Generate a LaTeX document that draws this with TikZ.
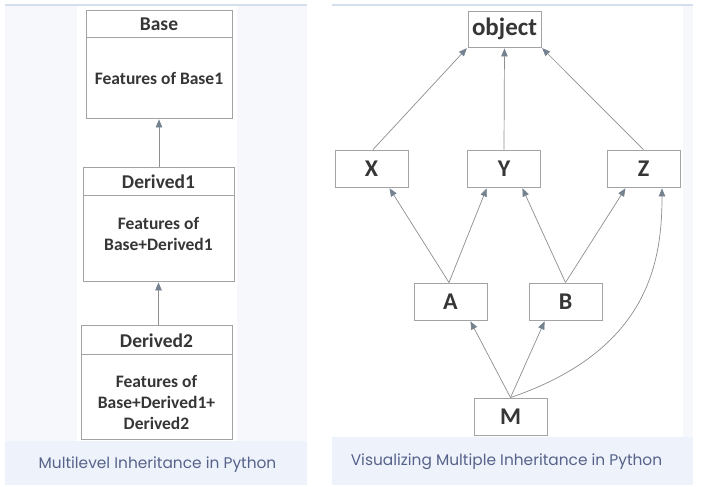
\documentclass[tikz,border=0pt]{standalone}
\usepackage{fontspec}
\setmainfont{Carlito}
\newfontfamily\capfont{Poppins}
\usetikzlibrary{arrows.meta,calc}
\definecolor{panelbg}{HTML}{F6F8FC}
\definecolor{capbg}{HTML}{EEF3FB}
\definecolor{topline}{HTML}{D5DEEC}
\definecolor{boxline}{HTML}{A3A3A3}
\definecolor{linkgray}{HTML}{8E8E8E}
\definecolor{tipgray}{HTML}{74818E}
\definecolor{txt}{HTML}{363636}
\definecolor{captxt}{HTML}{56628A}
\tikzset{
  box/.style={draw=boxline, line width=0.9pt, fill=white, inner sep=0pt, text=txt},
  hdr/.style={text=txt, font=\bfseries\fontsize{19.5}{22}\selectfont, inner sep=0pt},
  lbl/.style={text=txt, font=\bfseries\fontsize{17.5}{21}\selectfont, align=center, inner sep=0pt},
  cls/.style={box, minimum width=73pt, minimum height=37pt, font=\bfseries\fontsize{24}{26}\selectfont},
  link/.style={draw=linkgray, line width=0.7pt, -{Triangle[length=8pt,width=6.5pt,color=tipgray]}, shorten >=1pt},
  caption/.style={text=captxt, font=\capfont\fontsize{15.4}{18}\selectfont, inner sep=0pt}
}
\begin{document}
\begin{tikzpicture}[x=1pt,y=-1pt]
\useasboundingbox (0,0) rectangle (723,487);
% panels
\fill[panelbg] (5,5) rectangle (307,485);
\fill[white] (77,6) rectangle (237,441);
\fill[capbg] (5,441) rectangle (307,485);
\draw[topline, line width=1.2pt] (5,5) -- (307,5);
\fill[panelbg] (332,5) rectangle (693,485);
\fill[white] (332,6) rectangle (683,437);
\fill[capbg] (332,437) rectangle (693,485);
\draw[topline, line width=1.2pt] (332,5) -- (693,5);
% left diagram
\node[box, minimum width=146pt, minimum height=27pt] (baseh) at (159,23.5) {};
\node[box, minimum width=146pt, minimum height=81pt] (baseb) at (159,77.5) {};
\node[hdr] (baset) at ([yshift=-1pt]baseh.center) {Base};
\node[lbl] (basef) at ([yshift=-1pt]baseb.center) {Features of Base1};
\node[box, minimum width=151pt, minimum height=28pt] (d1h) at (158.5,181) {};
\node[box, minimum width=151pt, minimum height=86pt] (d1b) at (158.5,238) {};
\node[hdr] (d1t) at ([yshift=-1pt]d1h.center) {Derived1};
\node[lbl] (d1f) at ([yshift=4pt]d1b.center) {Features of\\Base+Derived1};
\node[box, minimum width=151pt, minimum height=29pt] (d2h) at (156.5,339.5) {};
\node[box, minimum width=151pt, minimum height=85pt] (d2b) at (156.5,396.5) {};
\node[hdr] (d2t) at ([yshift=-1pt]d2h.center) {Derived2};
\node[lbl] (d2f) at ([yshift=-6pt]d2b.center) {Features of\\Base+Derived1+\\Derived2};
\draw[link] (d1h.north -| baseb.south) -- (baseb.south);
\draw[link] (d2h.north -| d1b.south) -- (d1b.south);
\node[caption] (cap1) at (157.5,465) {Multilevel Inheritance in Python};
% right diagram
\node[cls, minimum height=36pt, font=\bfseries\fontsize{25}{27}\selectfont] (obj) at (504.5,29) {object};
\node[cls] (X) at (371.5,168.5) {X};
\node[cls] (Y) at (504,168.5) {Y};
\node[cls] (Z) at (643.5,168.5) {Z};
\node[cls] (A) at (450.5,301.5) {A};
\node[cls] (B) at (565.5,301.5) {B};
\node[cls] (M) at (510.5,416.5) {M};
\draw[link] ([xshift=1.5pt]X.north) -- (obj.south west);
\draw[link] (Y.north) -- (obj.south);
\draw[link] (Z.north) -- (obj.south east);
\draw[link] ([xshift=-1.5pt]A.north) -- ([xshift=17.5pt]X.south);
\draw[link] ([xshift=-1.5pt]A.north) -- ([xshift=-17pt]Y.south);
\draw[link] (B.north) -- ([xshift=18pt]Y.south);
\draw[link] (B.north) -- ([xshift=-17.5pt]Z.south);
\draw[link] (M.north) -- ([xshift=19.5pt]A.south);
\draw[link] (M.north) -- ([xshift=-20.5pt]B.south);
\draw[link] (M.north) .. controls (650,350) and (662,260) .. ([xshift=18.5pt]Z.south);
\node[caption] (cap2) at (506.5,462) {Visualizing Multiple Inheritance in Python};
\end{tikzpicture}
\end{document}
